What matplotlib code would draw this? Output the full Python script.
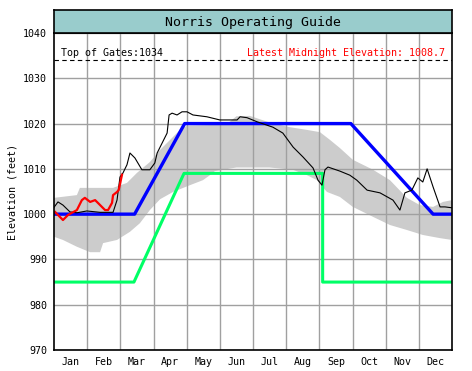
import matplotlib.pyplot as plt
import numpy as np

plt.rcParams['font.family'] = ['DejaVu Sans Mono']

# 数据（x 为月份位置，0 = 1月1日，12 = 12月31日）
months = ['Jan', 'Feb', 'Mar', 'Apr', 'May', 'Jun',
          'Jul', 'Aug', 'Sep', 'Oct', 'Nov', 'Dec']

# 灰色历史范围带：上沿、下沿
band_up_x = [0, 0.69, 0.78, 1.78, 2.2, 2.5, 2.89, 3.2, 3.5, 3.8, 4.0, 5.2, 5.5, 5.9, 6.6,
             7.11, 7.63, 8.02, 8.32, 8.62, 9.01, 9.62, 10.13, 10.64, 11.03, 11.43, 11.73, 12.0]
band_up_y = [1003.6, 1004.2, 1005.8, 1005.8, 1006.9, 1009.1, 1011.5, 1014.2, 1016.4, 1018.6,
             1019.5, 1019.8, 1021.6, 1021.7, 1020.0, 1019.2, 1018.6, 1018.1, 1016.4, 1014.6,
             1012.0, 1009.8, 1007.5, 1003.6, 1002.0, 1001.6, 1002.7, 1003.1]
band_lo_x = [0, 0.27, 0.69, 1.09, 1.39, 1.48, 1.9, 2.29, 2.59, 2.89, 3.2, 3.59, 4.1, 4.49,
             4.7, 4.85, 5.5, 6.5, 7.2, 7.63, 7.93, 8.23, 8.62, 9.01, 9.62, 10.13, 10.64,
             11.12, 11.64, 12.0]
band_lo_y = [995.0, 994.3, 992.8, 991.6, 991.6, 993.6, 994.3, 996.1, 998.0, 1000.9, 1003.3,
             1004.9, 1006.4, 1007.5, 1008.6, 1009.5, 1010.3, 1010.3, 1009.8, 1008.6, 1007.5,
             1004.9, 1003.8, 1001.6, 999.4, 997.6, 996.5, 995.4, 994.7, 994.3]

# 运行指南上限（蓝）与下限（绿）
guide_top_x = [0, 2.43, 3.94, 8.95, 11.43, 12]
guide_top_y = [1000, 1000, 1020, 1020, 1000, 1000]
guide_min_x = [0, 2.41, 3.92, 8.1, 8.1, 12]
guide_min_y = [985, 985, 1009, 1009, 985, 985]

# 去年观测水位（黑）
last_x = [0, 0.12, 0.27, 0.48, 0.69, 0.99, 1.39, 1.78, 1.9, 1.99, 2.08, 2.2, 2.29, 2.44,
          2.65, 2.8, 2.89, 3.04, 3.11, 3.26, 3.41, 3.47, 3.56, 3.71, 3.86, 4.01, 4.19, 4.61,
          5.0, 5.52, 5.61, 5.82, 6.12, 6.6, 6.9, 7.21, 7.51, 7.81, 7.96, 8.08, 8.17, 8.26,
          8.62, 8.92, 9.13, 9.44, 9.83, 10.22, 10.43, 10.58, 10.79, 10.97, 11.12, 11.25,
          11.43, 11.64, 11.79, 12.0]
last_y = [1001.5, 1002.7, 1002.0, 1000.5, 1000.3, 1000.7, 1000.4, 1000.4, 1003.1, 1008.2,
          1009.1, 1010.9, 1013.5, 1012.4, 1009.8, 1009.8, 1009.8, 1011.3, 1013.5, 1015.7,
          1017.9, 1021.9, 1022.3, 1021.9, 1022.6, 1022.6, 1021.9, 1021.5, 1020.8, 1020.8,
          1021.5, 1021.3, 1020.4, 1019.2, 1017.9, 1014.8, 1012.6, 1010.2, 1007.5, 1006.4,
          1009.8, 1010.4, 1009.5, 1008.6, 1007.5, 1005.3, 1004.7, 1003.1, 1000.9, 1004.7,
          1005.3, 1008.0, 1007.1, 1010.0, 1006.0, 1001.6, 1001.6, 1001.4]

# 今年观测水位（红）
this_x = [0.03, 0.27, 0.42, 0.69, 0.84, 0.93, 1.09, 1.24, 1.39, 1.54, 1.63, 1.75, 1.78,
          1.9, 1.95, 2.05]
this_y = [1000.5, 998.7, 999.8, 1000.9, 1003.1, 1003.6, 1002.7, 1003.1, 1002.0, 1000.9,
          1000.9, 1002.5, 1004.2, 1004.9, 1005.3, 1008.7]

top_of_gates = 1034
latest = 1008.7

W, H = 472, 371
fig = plt.figure(figsize=(W / 100, H / 100), dpi=100)
ax = fig.add_axes([54 / W, 1 - 350 / H, 398 / W, 317 / H])

# 灰带放在网格下面，其余曲线在网格上面
ax.fill(np.concatenate([band_up_x, band_lo_x[::-1]]),
        np.concatenate([band_up_y, band_lo_y[::-1]]),
        color='#CCCCCC', lw=0, zorder=1)
ax.plot(guide_min_x, guide_min_y, color='#00FF66', lw=2.2, zorder=3)
ax.plot(guide_top_x, guide_top_y, color='#0000FF', lw=2.4, zorder=3)
ax.plot(last_x, last_y, color='black', lw=0.8, zorder=4)
ax.plot(this_x, this_y, color='#FF0000', lw=1.6, zorder=5)

ax.axhline(top_of_gates, color='black', lw=0.8, ls=(0, (4, 3)), zorder=4)
ax.text(0.2, top_of_gates + 0.5, f'Top of Gates:{top_of_gates}', fontsize=7.2, va='bottom')
ax.text(11.8, top_of_gates + 0.5, f'Latest Midnight Elevation: {latest}', fontsize=7.2,
        va='bottom', ha='right', color='#FF0000')

ax.set_xlim(0, 12)
ax.set_ylim(970, 1040)
ax.set_xticks(range(1, 12))
ax.set_xticklabels([])
ax.set_xticks(np.arange(12) + 0.5, minor=True)
ax.set_xticklabels(months, minor=True, fontsize=7.2)
ax.set_yticks(range(970, 1041, 10))
ax.set_yticklabels([str(v) for v in range(970, 1041, 10)], fontsize=7.2)
ax.tick_params(which='both', length=0, pad=5)
ax.grid(True, which='major', color='#A0A0A0', lw=1, zorder=2)
ax.set_axisbelow(False)
for s in ax.spines.values():
    s.set_linewidth(1.2)
    s.set_zorder(6)
ax.set_ylabel('Elevation (feet)', fontsize=7.2, labelpad=4)

# 标题框
tax = fig.add_axes([54 / W, 1 - 33 / H, 398 / W, 23 / H])
tax.set_facecolor('#99CCCC')
tax.set_xticks([])
tax.set_yticks([])
for s in tax.spines.values():
    s.set_linewidth(1.2)
tax.text(0.5, 0.45, 'Norris Operating Guide', ha='center', va='center', fontsize=9.5,
         transform=tax.transAxes)

fig.savefig('out.png', dpi=100)
